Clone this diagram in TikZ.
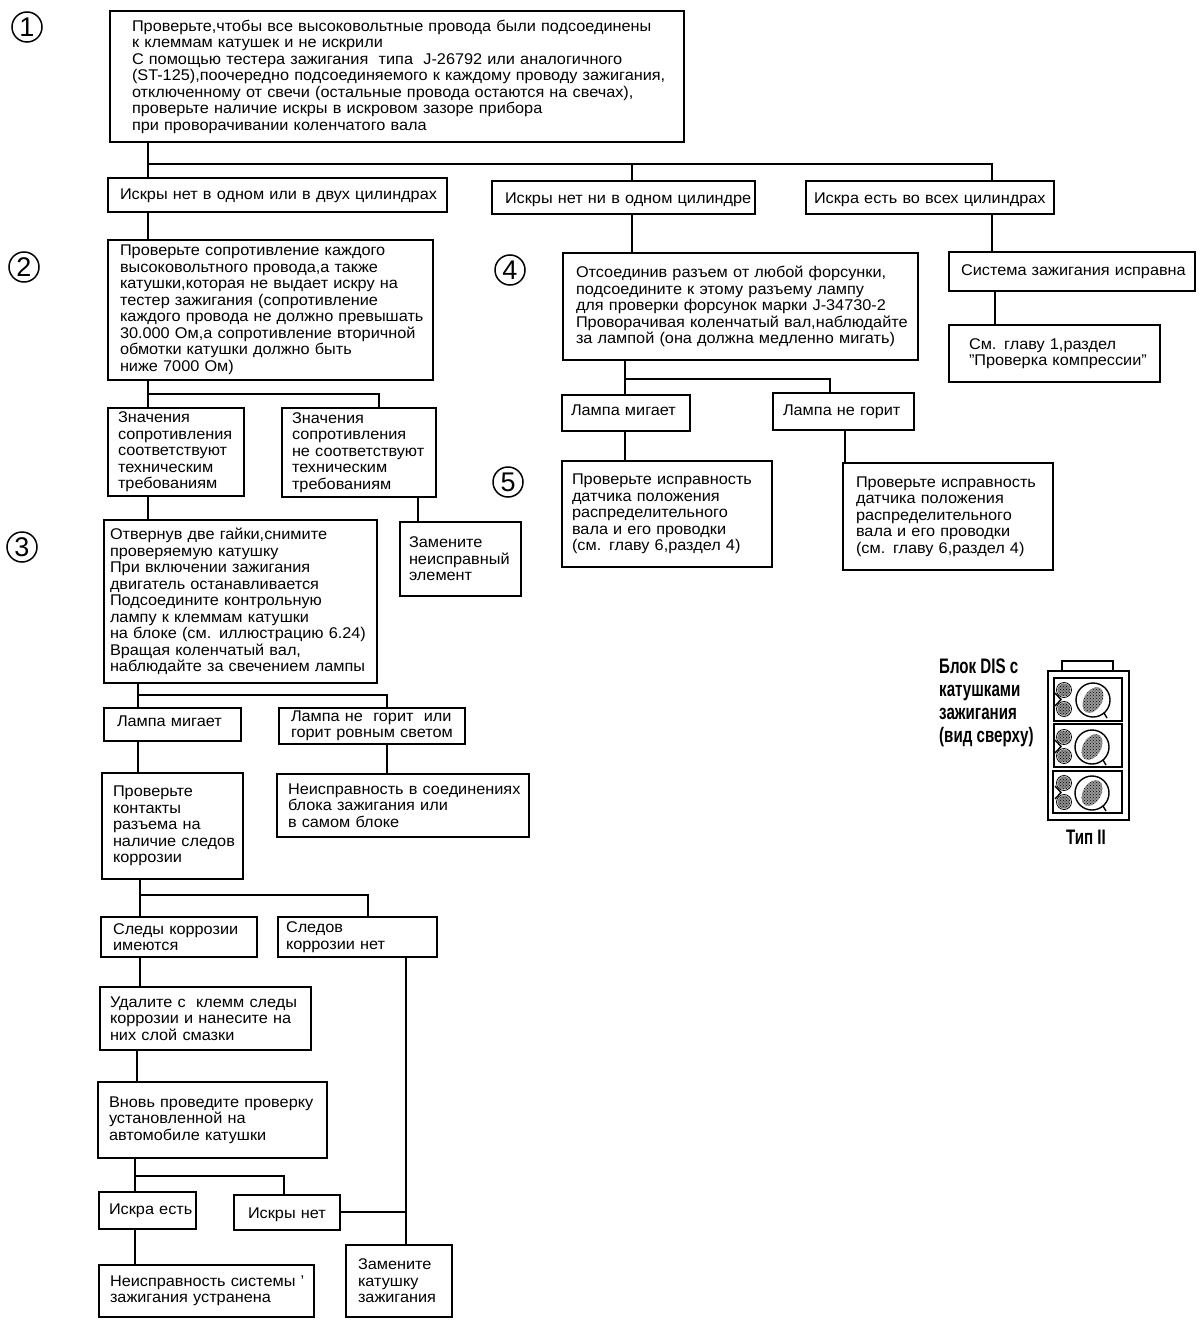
\documentclass[tikz,border=0pt]{standalone}
\usepackage{fontspec}
\setmainfont[FakeStretch=1.05]{Liberation Sans}
\newfontfamily\numfont{Liberation Sans}
\newfontfamily\condfont[FakeStretch=0.72]{Liberation Sans Bold}
\usetikzlibrary{patterns}
\def\bxdy{0}
\newcommand{\bx}[7]{%
  \pgfmathsetmacro{\bxw}{#4-#2}\pgfmathsetmacro{\bxh}{#5-#3}%
  \pgfmathsetmacro{\bxcx}{(#2+#4)/2}\pgfmathsetmacro{\bxcy}{(#3+#5)/2}%
  \pgfmathsetmacro{\bxtw}{\bxw-#6-2}%
  \node[boxn, minimum width=\bxw pt, minimum height=\bxh pt, text width=\bxtw pt, inner xsep=0pt, xshift={(#6-2)/2*1pt}, draw=none] (#1-t) at (\bxcx,\bxcy+\bxdy) {#7};%
  \node[draw=black, line width=1.8pt, rectangle, inner sep=0pt, minimum width=\bxw pt, minimum height=\bxh pt] (#1) at (\bxcx,\bxcy) {};%
}
\newcommand{\unitblock}[4]{% y top, y small2, big x, big y
  \fill[black!45] (1064,#1) circle (6.5);
  \fill[pattern=crosshatch dots] (1064,#1) circle (6.5);
  \draw[thick] (1064,#1) circle (7.5);
  \fill[black!45] (1064,#2) circle (6.5);
  \fill[pattern=crosshatch dots] (1064,#2) circle (6.5);
  \draw[thick] (1064,#2) circle (7.5);
  \draw[line width=1.4pt] (1055,#1+3) -- (1061,{(#1+#2)/2}) -- (1055,#2-3);
  \draw[line width=1.4pt] (#3,#4) circle (17);
  \fill[black!40, rotate around={-30:(#3,#4)}] (#3,#4) ellipse (9 and 14);
  \fill[pattern=crosshatch dots, rotate around={-30:(#3,#4)}] (#3,#4) ellipse (9 and 14);
  \draw[line width=1.4pt] (#3+11,#4+13) -- (#3+14,#4+18);
}
\tikzset{
  boxn/.style={align=left, font=\fontsize{15.5}{16.5}\selectfont, text=black},
  conn/.style={draw=black, line width=1.8pt},
  numc/.style={circle, draw=black, line width=1.5pt, minimum size=30pt, inner sep=0pt, font=\fontsize{27}{27}\numfont},
  dislab/.style={align=left, font=\fontsize{21}{23}\condfont, text=black, inner sep=0pt},
}
\begin{document}
\begin{tikzpicture}[x=1pt,y=-1pt]
\useasboundingbox (0,0) rectangle (1200,1324);

\node[numc] (n1) at (27,27) {1};
\node[numc] (n2) at (24,267) {2};
\node[numc] (n3) at (22,547) {3};
\node[numc] (n4) at (510,270) {4};
\node[numc] (n5) at (508,482) {5};

\bx{top}{110}{11}{684}{142}{22}{Проверьте,чтобы все высоковольтные провода были подсоединены\\к клеммам катушек и не искрили\\С помощью тестера зажигания\ \ типа\ \ J-26792 или аналогичного\\(ST-125),поочередно подсоединяемого к каждому проводу зажигания,\\отключенному от свечи (остальные провода остаются на свечах),\\проверьте наличие искры в искровом зазоре прибора\\при проворачивании коленчатого вала}
\def\bxdy{1}
\bx{A}{108}{178}{447}{212}{12}{Искры нет в одном или в двух цилиндрах}
\def\bxdy{2}
\bx{B}{492}{181}{755}{214}{13}{Искры нет ни в одном цилиндре}
\bx{C}{806}{181}{1054}{214}{8}{Искра есть во всех цилиндрах}
\bx{in}{234}{1195}{340}{1230}{14}{Искры нет}
\def\bxdy{-3}
\bx{lm1}{104}{708}{241}{741}{13}{Лампа мигает}
\bx{lm2}{562}{395}{690}{431}{9}{Лампа мигает}
\def\bxdy{0}
\bx{b2}{108}{240}{433}{380}{12}{Проверьте сопротивление каждого\\высоковольтного провода,а также\\катушки,которая не выдает искру на\\тестер зажигания (сопротивление\\каждого провода не должно превышать\\30.000 Ом,а сопротивление вторичной\\обмотки катушки должно быть\\ниже 7000 Ом)}
\bx{v1}{108}{408}{244}{496}{10}{Значения\\сопротивления\\соответствуют\\техническим\\требованиям}
\bx{v2}{282}{408}{436}{497}{10}{Значения\\сопротивления\\не соответствуют\\техническим\\требованиям}
\bx{b3}{104}{520}{377}{683}{6}{Отвернув две гайки,снимите\\проверяемую катушку\\При включении зажигания\\двигатель останавливается\\Подсоедините контрольную\\лампу к клеммам катушки\\на блоке (см. иллюстрацию 6.24)\\Вращая коленчатый вал,\\наблюдайте за свечением лампы}
\bx{zam}{400}{522}{521}{596}{9}{Замените\\неисправный\\элемент}
\bx{ln1}{279}{708}{465}{744}{12}{Лампа не\ \ горит\ \ или\\горит ровным светом}
\bx{kont}{102}{773}{243}{879}{11}{Проверьте\\контакты\\разъема на\\наличие следов\\коррозии}
\bx{blok}{277}{774}{529}{837}{11}{Неисправность в соединениях\\блока зажигания или\\в самом блоке}
\bx{sl1}{101}{917}{257}{957}{12}{Следы коррозии\\имеются}
\bx{sl2}{278}{917}{437}{957}{8}{Следов\\коррозии нет}
\bx{ud}{100}{987}{311}{1050}{10}{Удалите с\ \ клемм следы\\коррозии и нанесите на\\них слой смазки}
\bx{vn}{98}{1082}{327}{1158}{11}{Вновь проведите проверку\\установленной на\\автомобиле катушки}
\bx{ie}{99}{1192}{196}{1229}{10}{Искра есть}
\bx{ns}{99}{1265}{314}{1317}{11}{Неисправность системы '\\зажигания устранена}
\bx{zk}{346}{1245}{452}{1317}{12}{Замените\\катушку\\зажигания}
\bx{b4}{563}{253}{918}{360}{13}{Отсоединив разъем от любой форсунки,\\подсоедините к этому разъему лампу\\для проверки форсунок марки J-34730-2\\Проворачивая коленчатый вал,наблюдайте\\за лампой (она должна медленно мигать)}
\bx{ln2}{773}{393}{914}{430}{10}{Лампа не горит}
\bx{d1}{562}{461}{772}{567}{10}{Проверьте исправность\\датчика положения\\распределительного\\вала и его проводки\\(см. главу 6,раздел 4)}
\bx{d2}{843}{463}{1053}{570}{13}{Проверьте исправность\\датчика положения\\распределительного\\вала и его проводки\\(см. главу 6,раздел 4)}
\bx{sys}{949}{252}{1195}{291}{12}{Система зажигания исправна}
\bx{comp}{949}{325}{1160}{382}{20}{См. главу 1,раздел\\"Проверка компрессии"}

% connectors
\coordinate (j1) at (148,164);
\coordinate (j1b) at (632,164);
\coordinate (j1c) at (992,164);
\draw[conn] (148,0 |- top.south) -- (148,0 |- A.north);
\draw[conn] (j1) -- (j1c) -- (j1c |- C.north);
\draw[conn] (j1b) -- (j1b |- B.north);
\draw[conn] (148,0 |- A.south) -- (148,0 |- b2.north);
\draw[conn] (632,0 |- B.south) -- (632,0 |- b4.north);
\draw[conn] (992,0 |- C.south) -- (992,0 |- sys.north);
\draw[conn] (995,0 |- sys.south) -- (995,0 |- comp.north);

\coordinate (j2) at (148,394);
\coordinate (j2b) at (379,394);
\draw[conn] (148,0 |- b2.south) -- (148,0 |- v1.north);
\draw[conn] (j2) -- (j2b) -- (j2b |- v2.north);
\draw[conn] (148,0 |- v1.south) -- (148,0 |- b3.north);
\draw[conn] (418,0 |- v2.south) -- (418,0 |- zam.north);

\coordinate (j3) at (138,695);
\coordinate (j3b) at (387,695);
\draw[conn] (138,0 |- b3.south) -- (138,0 |- lm1.north);
\draw[conn] (j3) -- (j3b) -- (j3b |- ln1.north);
\draw[conn] (138,0 |- lm1.south) -- (138,0 |- kont.north);
\draw[conn] (387,0 |- ln1.south) -- (387,0 |- blok.north);

\coordinate (j4) at (140,895);
\coordinate (j4b) at (368,895);
\draw[conn] (140,0 |- kont.south) -- (140,0 |- sl1.north);
\draw[conn] (j4) -- (j4b) -- (j4b |- sl2.north);
\draw[conn] (140,0 |- sl1.south) -- (140,0 |- ud.north);
\draw[conn] (137,0 |- ud.south) -- (137,0 |- vn.north);

\coordinate (j5) at (135,1176);
\coordinate (j5b) at (284,1176);
\coordinate (j6) at (406,1212);
\draw[conn] (135,0 |- vn.south) -- (135,0 |- ie.north);
\draw[conn] (j5) -- (j5b) -- (j5b |- in.north);
\draw[conn] (135,0 |- ie.south) -- (135,0 |- ns.north);
\draw[conn] (in.east |- j6) -- (j6);
\draw[conn] (406,0 |- sl2.south) -- (406,0 |- zk.north);

\coordinate (j7) at (625,379);
\coordinate (j7b) at (830,379);
\draw[conn] (625,0 |- b4.south) -- (625,0 |- lm2.north);
\draw[conn] (j7) -- (j7b) -- (j7b |- ln2.north);
\draw[conn] (625,0 |- lm2.south) -- (625,0 |- d1.north);
\draw[conn] (845,0 |- ln2.south) -- (845,0 |- d2.north);

% DIS block
\node[dislab, anchor=north west] (dis) at (939,659) {Блок DIS с\\катушками\\зажигания\\(вид сверху)};
\node[dislab, anchor=center] (typ) at (1086,837) {Тип II};
\draw[line width=1.6pt] (1048,671) rectangle (1129,820);
\draw[line width=1.4pt] (1062,671) -- (1062,661) -- (1113,661) -- (1113,671);
\draw[line width=1.5pt] (1054,678) rectangle (1122,721);
\draw[line width=1.5pt] (1054,724) rectangle (1122,767);
\draw[line width=1.5pt] (1053,771) rectangle (1122,813);
\unitblock{690}{709}{1093}{700}
\unitblock{737}{756}{1092}{747}
\unitblock{783}{802}{1092}{793}
\end{tikzpicture}
\end{document}
